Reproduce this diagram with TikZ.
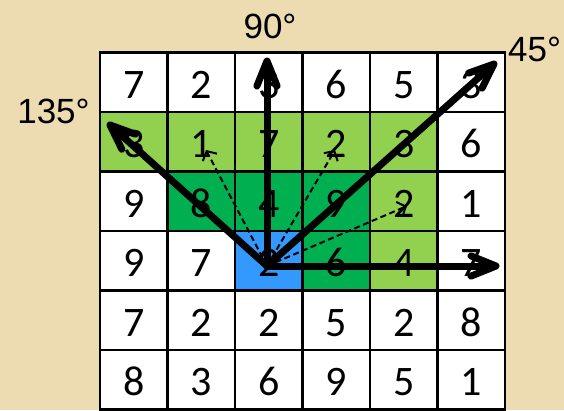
\documentclass[tikz,border=0pt]{standalone}
\usepackage{fontspec}
\setmainfont{Liberation Sans}
\newfontfamily\cellfont{Carlito}
\usetikzlibrary{arrows.meta,calc}
\definecolor{parch}{RGB}{237,219,178}
\definecolor{lgreen}{RGB}{146,208,80}
\definecolor{dgreen}{RGB}{0,176,80}
\definecolor{cblue}{RGB}{51,153,255}
\begin{document}
\begin{tikzpicture}[x=1pt,y=-1pt,
  cellbox/.style={draw=black,line width=2.5pt,minimum width=67.5pt,minimum height=59.5pt,inner sep=0pt},
  digit/.style={inner sep=0pt,font=\cellfont\fontsize{42}{42}\selectfont,text height=26pt,text depth=0pt},
  lab/.style={inner sep=0pt,font=\fontsize{35}{35}\selectfont,text height=25pt,text depth=0pt},
  thickline/.style={line width=7pt,line cap=round,line join=round},
  dasharrow/.style={line width=2pt,dash pattern=on 6pt off 3.5pt,-{Straight Barb[line width=2pt,length=7pt,width=16pt]}}
]
\fill[parch] (0,0) rectangle (564,410);
\useasboundingbox (0,0) rectangle (564,410);
\foreach \r/\c/\v/\f in {
  1/1/7/white,1/2/2/white,1/3/3/white,1/4/6/white,1/5/5/white,1/6/3/white,
  2/1/3/lgreen,2/2/1/lgreen,2/3/7/lgreen,2/4/2/lgreen,2/5/3/lgreen,2/6/6/white,
  3/1/9/white,3/2/8/dgreen,3/3/4/dgreen,3/4/9/dgreen,3/5/2/lgreen,3/6/1/white,
  4/1/9/white,4/2/7/white,4/3/2/cblue,4/4/6/dgreen,4/5/4/lgreen,4/6/7/white,
  5/1/7/white,5/2/2/white,5/3/2/white,5/4/5/white,5/5/2/white,5/6/8/white,
  6/1/8/white,6/2/3/white,6/3/6/white,6/4/9/white,6/5/5/white,6/6/1/white}{
  \node[cellbox,fill=\f] (c\r\c) at ({100+67.5*(\c-0.5)},{52.5+59.5*(\r-0.5)}) {};
  \path (c\r\c.center) ++(0,3) node[digit] (n\r\c) {\v};
}
\node[lab] (l90) at (270,26) {90°};
\node[lab,anchor=west] (l45) at (508,49) {45°};
\node[lab] (l135) at (53.5,110.5) {135°};
\coordinate (O) at (267,266);
\coordinate (t90) at (267,61);
\coordinate (t45) at (494,64);
\coordinate (t135) at (110,125);
\coordinate (t0) at (496,266);
\coordinate (d1) at (206,150);
\coordinate (d2) at (335,150);
\coordinate (d3) at (407,206);
\draw[dasharrow] (O) -- (d1);
\draw[dasharrow] (O) -- (d2);
\draw[dasharrow] (O) -- (d3);
\foreach \t in {t90,t45,t135,t0}{
  \draw[thickline] (O) -- ($(\t)!2pt!(O)$);
  \draw[thickline] ($(\t)!27pt!22:(O)$) -- (\t) -- ($(\t)!27pt!-22:(O)$);
}
\end{tikzpicture}
\end{document}
